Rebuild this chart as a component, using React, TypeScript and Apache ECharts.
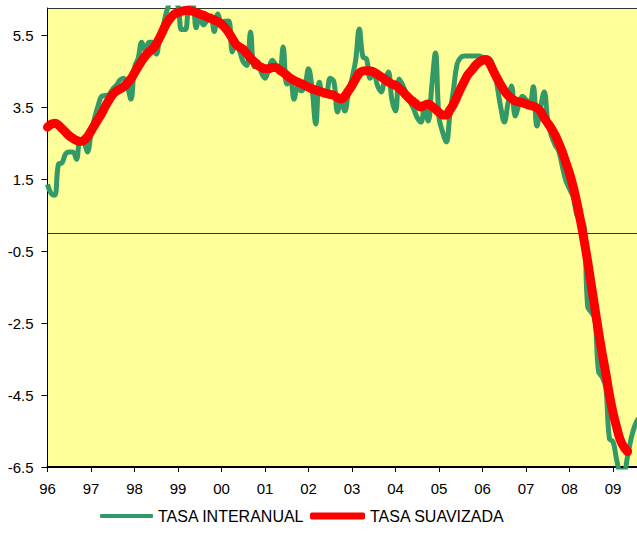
import React, { useEffect, useRef } from "react";
import * as echarts from "echarts";

const yearLabels = ["96", "97", "98", "99", "00", "01", "02", "03", "04", "05", "06", "07", "08", "09"];
const yTickValues = [-6.5, -4.5, -2.5, -0.5, 1.5, 3.5, 5.5];

// Monthly values, Jan 1996 onwards
const tasaInteranual = [
  1.35, 1.1, 1.05, 1.9, 1.95, 2.2, 2.25, 2.25, 2.05, 2.6, 2.55, 2.25,
  2.75, 3.2, 3.55, 3.8, 3.82, 3.85, 4.0, 4.1, 4.25, 4.3, 4.1, 3.72,
  4.6, 4.85, 5.3, 5.05, 5.3, 5.3, 4.97, 5.45, 5.8, 6.2, 6.4, 6.4,
  6.3, 5.65, 5.65, 6.3, 6.35, 5.7, 6.14, 5.78, 5.9, 6.03, 5.6, 6.08,
  5.86, 5.88, 5.89, 5.03, 5.3, 5.05, 4.75, 4.65, 5.58, 4.62, 4.75, 4.45,
  4.3, 4.55, 4.8, 4.65, 4.45, 5.17, 4.14, 4.2, 3.72, 4.05, 3.95, 4.1,
  4.56, 3.98, 3.03, 4.19, 3.85, 3.9, 4.3, 4.2, 3.36, 3.72, 3.39, 3.9,
  4.3, 4.8, 5.67, 4.89, 4.83, 4.3, 4.42, 4.1, 3.92, 4.25, 4.47, 3.7,
  3.39, 4.28, 4.1, 3.85, 3.64, 3.45, 3.2, 3.08, 3.5, 3.11, 4.08, 5.0,
  3.2, 2.8, 2.53, 3.3, 4.0, 4.7, 4.88, 4.92, 4.92, 4.92, 4.92, 4.92,
  4.88, 4.85, 4.83, 4.6, 4.1, 3.5, 3.08, 3.6, 4.08, 3.25, 3.55, 3.8,
  3.7, 3.6, 4.06, 2.97, 3.5, 3.92, 3.1, 2.7, 2.45, 2.28, 1.85, 1.45,
  1.22, 1.0, 0.5, 0.35, 0.2, -2.05, -2.2, -2.4, -3.85, -4.0, -4.3, -5.72,
  -5.8, -6.3, -6.6, -6.6, -6.2, -5.7, -5.35, -5.15,
];

const tasaSuavizada = [
  2.94, 3.02, 3.05, 3.0, 2.9, 2.8, 2.7, 2.63, 2.57, 2.54, 2.57, 2.67,
  2.83, 3.0, 3.17, 3.33, 3.53, 3.7, 3.85, 3.94, 4.0, 4.06, 4.16, 4.28,
  4.45, 4.62, 4.78, 4.92, 5.03, 5.12, 5.25, 5.44, 5.65, 5.85, 5.98, 6.08,
  6.12, 6.16, 6.18, 6.18, 6.16, 6.12, 6.08, 6.05, 6.0, 5.96, 5.92, 5.87,
  5.8, 5.7, 5.56, 5.4, 5.24, 5.16, 5.1, 4.98, 4.86, 4.76, 4.65, 4.6,
  4.56, 4.56, 4.6, 4.6, 4.53, 4.46, 4.38, 4.3, 4.24, 4.19, 4.15, 4.1,
  4.05, 4.0, 3.97, 3.94, 3.9, 3.87, 3.85, 3.82, 3.76, 3.72, 3.8, 3.95,
  4.1, 4.28, 4.44, 4.5, 4.51, 4.5, 4.47, 4.41, 4.34, 4.27, 4.2, 4.14,
  4.1, 4.02, 3.93, 3.82, 3.72, 3.64, 3.56, 3.5, 3.55, 3.58, 3.52, 3.44,
  3.35, 3.28, 3.28, 3.42, 3.58, 3.8, 4.02, 4.22, 4.4, 4.52, 4.65, 4.74,
  4.8, 4.82, 4.7, 4.5, 4.3, 4.12, 3.95, 3.82, 3.74, 3.67, 3.64, 3.62,
  3.58, 3.55, 3.52, 3.47, 3.38, 3.2, 3.05, 2.9, 2.72, 2.5, 2.25, 1.95,
  1.65, 1.28, 0.85, 0.35, -0.2, -0.8, -1.45, -2.1, -2.75, -3.35, -3.9, -4.5,
  -5.0, -5.4, -5.75, -5.95, -6.07,
];

export default function App() {
  const ref = useRef<HTMLDivElement>(null);
  useEffect(() => {
    const chart = echarts.init(ref.current!, null, { renderer: "svg" });
    const font = "'Liberation Sans', Arial, sans-serif";
    const xTicks = yearLabels.map((_, i) => i * 12);
    chart.setOption({
      animation: false,
      grid: {
        left: 47.5,
        right: 0,
        top: 8,
        bottom: 66,
        show: true,
        backgroundColor: "#FFFF99",
        borderWidth: 0,
      },
      xAxis: [
        {
          type: "value",
          min: 0,
          max: 162.6,
          axisLine: { onZero: false, lineStyle: { color: "#000", width: 2 } },
          axisTick: { customValues: xTicks, length: 5, lineStyle: { color: "#000" } },
          axisLabel: {
            customValues: xTicks,
            formatter: (v: number) => yearLabels[Math.round(v / 12)] ?? "",
            color: "#000",
            fontSize: 15,
            fontFamily: font,
            margin: 14,
          },
          splitLine: { show: false },
        },
        {
          type: "value",
          position: "top",
          min: 0,
          max: 162.6,
          axisLine: { show: true, onZero: false, lineStyle: { color: "#333", width: 1 } },
          axisTick: { show: false },
          axisLabel: { show: false },
          splitLine: { show: false },
        },
      ],
      yAxis: {
        type: "value",
        min: -6.5,
        max: 6.25,
        axisLine: { show: true, onZero: false, lineStyle: { color: "#000", width: 1 } },
        axisTick: { show: true, customValues: yTickValues, length: 6, lineStyle: { color: "#000" } },
        axisLabel: {
          customValues: yTickValues,
          formatter: (v: number) => v.toFixed(1),
          color: "#000",
          fontSize: 15,
          fontFamily: font,
          margin: 14,
        },
        splitLine: { show: false },
      },
      legend: [
        {
          data: ["TASA INTERANUAL"],
          left: 100,
          top: 508,
          padding: 0,
          itemWidth: 53,
          itemHeight: 4,
          icon: "roundRect",
          textStyle: { color: "#000", fontSize: 16, fontFamily: font },
          selectedMode: false,
        },
        {
          data: ["TASA SUAVIZADA"],
          left: 310,
          top: 508,
          padding: 0,
          itemWidth: 55,
          itemHeight: 7,
          icon: "roundRect",
          textStyle: { color: "#000", fontSize: 16, fontFamily: font },
          selectedMode: false,
        },
      ],
      series: [
        {
          name: "TASA INTERANUAL",
          type: "line",
          xAxisIndex: 0,
          data: tasaInteranual.map((v, i) => [i, v]),
          symbol: "none",
          showSymbol: false,
          smooth: 0.4,
          lineStyle: { color: "#339966", width: 5 },
          itemStyle: { color: "#339966" },
          markLine: {
            silent: true,
            symbol: ["none", "none"],
            label: { show: false },
            lineStyle: { color: "#333", width: 1, type: "solid" },
            emphasis: { disabled: true },
            data: [{ yAxis: 0 }],
          },
        },
        {
          name: "TASA SUAVIZADA",
          type: "line",
          xAxisIndex: 0,
          data: tasaSuavizada.map((v, i) => [i, v]),
          symbol: "none",
          showSymbol: false,
          smooth: 0.4,
          lineStyle: { color: "#FF0000", width: 9, cap: "round" },
          itemStyle: { color: "#FF0000" },
        },
      ],
    });
    return () => chart.dispose();
  }, []);
  return (
    <div
      ref={ref}
      style={{ position: "absolute", left: 0, top: 0, width: 637, height: 533 }}
    />
  );
}
